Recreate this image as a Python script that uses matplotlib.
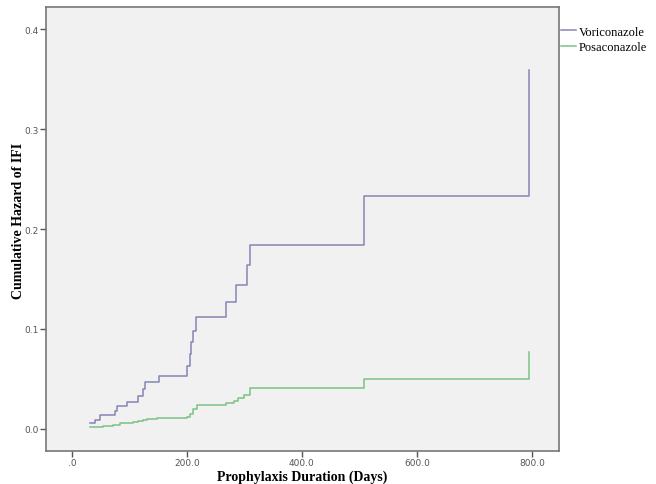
import matplotlib.pyplot as plt
from matplotlib.ticker import FuncFormatter

# event times (days) and cumulative hazard after each step
vori_days = [31, 40, 49, 75, 78, 96, 115, 123, 127, 151, 201, 205, 207, 210, 216,
             268, 285, 304, 310, 508, 795]
vori_haz = [0.0054, 0.0087, 0.0137, 0.018, 0.0228, 0.027, 0.033, 0.040, 0.047, 0.053,
            0.063, 0.075, 0.087, 0.098, 0.112, 0.127, 0.144, 0.164, 0.1845, 0.2335, 0.359]

posa_days = [31, 40, 54, 71, 83, 96, 106, 115, 124, 130, 148, 200, 205, 210, 217,
             268, 282, 289, 300, 310, 508, 795]
posa_haz = [0.0014, 0.002, 0.003, 0.004, 0.0054, 0.006, 0.0067, 0.0074, 0.0087, 0.0097,
            0.0107, 0.012, 0.0147, 0.0197, 0.0237, 0.0257, 0.028, 0.0308, 0.034, 0.0405,
            0.0498, 0.0766]

x_ticks = [0, 200, 400, 600, 800]
y_ticks = [0.0, 0.1, 0.2, 0.3, 0.4]

fig = plt.figure(figsize=(6.56, 4.85), dpi=100)
ax = fig.add_axes([0.0701, 0.068, 0.782, 0.9155])
ax.set_facecolor('#f1f1f1')

ax.step(vori_days, vori_haz, where='post', color='#8585b5', lw=1.1, label='Voriconazole')
ax.step(posa_days, posa_haz, where='post', color='#7cc283', lw=1.1, label='Posaconazole')

ax.set_xlim(-45, 847)
ax.set_ylim(-0.0224, 0.4225)
ax.set_xticks(x_ticks)
ax.set_yticks(y_ticks)
ax.xaxis.set_major_formatter(FuncFormatter(lambda v, p: '.0' if v == 0 else f'{v:.1f}'))
ax.yaxis.set_major_formatter(FuncFormatter(lambda v, p: f'{v:.1f}'))
ax.tick_params(labelsize=6.5, colors='#555555', length=4, width=1, direction='out', pad=1)

for s in ax.spines.values():
    s.set_color('#777777')
    s.set_linewidth(1.2)

serif = ['Liberation Serif', 'DejaVu Serif']
ax.set_xlabel('Prophylaxis Duration (Days)', family=serif, fontweight='bold', fontsize=10)
ax.set_ylabel('Cumulative Hazard of IFI', family=serif, fontweight='bold', fontsize=10)
ax.xaxis.set_label_coords(0.499, -0.042)
ax.yaxis.set_label_coords(-0.04, 0.52)

fig.legend(loc='upper left', bbox_to_anchor=(0.848, 0.955), frameon=False,
           prop={'family': serif, 'size': 9}, handlelength=1.2, handletextpad=0.2,
           labelspacing=0.25, borderaxespad=0)

fig.savefig('out.png', dpi=100)
